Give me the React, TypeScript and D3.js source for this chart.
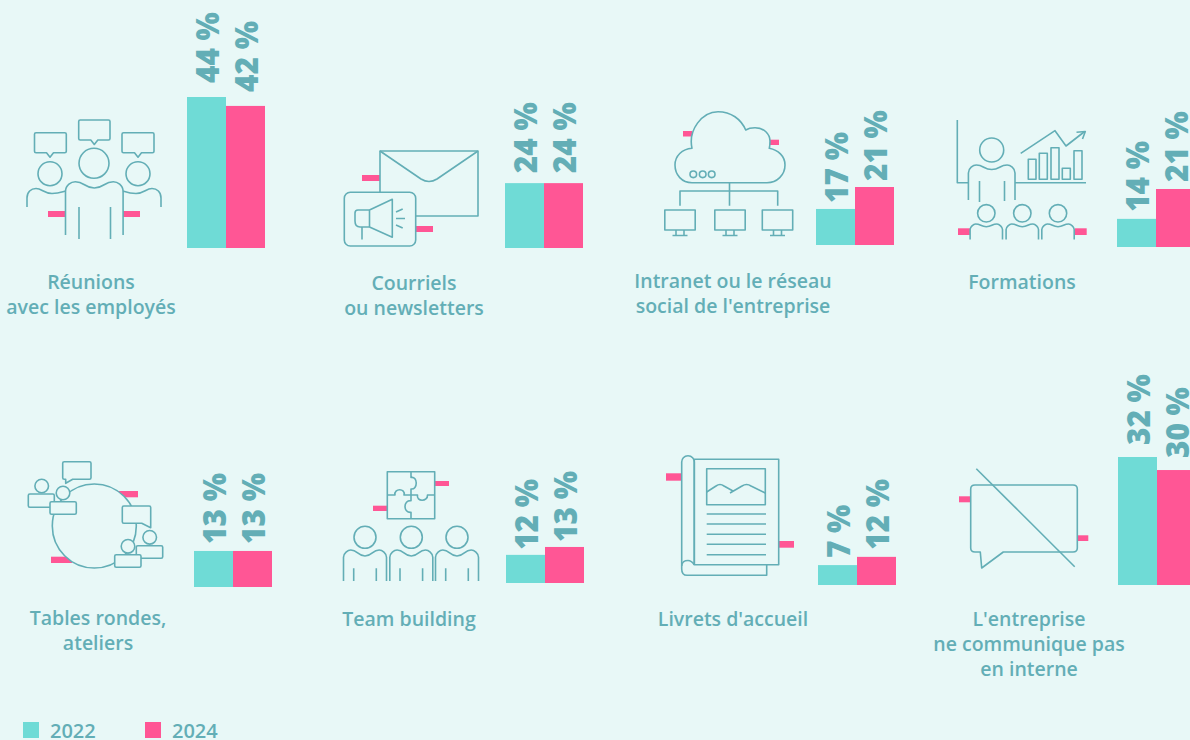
import React, { useEffect, useRef } from "react";
import * as d3 from "d3";

const years = ["2022", "2024"];
const categories = [
  ["Réunions", "avec les employés"],
  ["Courriels", "ou newsletters"],
  ["Intranet ou le réseau", "social de l'entreprise"],
  ["Formations"],
  ["Tables rondes,", "ateliers"],
  ["Team building"],
  ["Livrets d'accueil"],
  ["L'entreprise", "ne communique pas", "en interne"],
];
// printed labels
const values2022 = [44, 24, 17, 14, 13, 12, 7, 32];
const values2024 = [42, 24, 21, 21, 13, 13, 12, 30];
// the artwork's bars are not proportional to their labels, so the bar lengths
// are read off the picture separately, in the same units as the 44 % bar
const drawn2022 = [44, 18.9, 10.5, 8.2, 10.5, 8.2, 5.8, 37.3];
const drawn2024 = [41.4, 18.9, 16.9, 16.9, 10.5, 10.5, 8.2, 33.5];

// layout of each panel: left edge of bars, baseline, gap to label, text centre, first text baseline
const panelX = [187, 505, 816, 1117, 194, 506, 818, 1118];
const panelBase = [248, 248, 245, 247, 587, 583, 585, 585];
const labelGap = [14, 10, 6, 7, 7, 5, 7, 12];
const textX = [91, 414, 733, 1022, 98, 409, 733, 1029];
const textY = [289, 290, 288, 289, 625, 626, 626, 626];

const BG = "#e8f8f7";
const TEAL = "#6fdbd6";
const PINK = "#ff5695";
const INK = "#63aeb6";
const FONT = "'Open Sans', sans-serif";

const Dash = ({ x0, x1, y0, y1 }: { x0: number; x1: number; y0: number; y1: number }) => (
  <rect x={x0} y={y0} width={x1 - x0} height={y1 - y0} fill={PINK} stroke="none" />
);

// shoulders with a little dip at the neck
const torso = (cx: number, hw: number, top: number, dip: number, bot: number) => {
  const s = hw * 0.34;
  return `M${cx - hw} ${bot}V${top + s}C${cx - hw} ${top + 3} ${cx - hw + s * 0.6} ${top} ${cx - hw + s} ${top}` +
    `C${cx - s} ${top} ${cx - s} ${dip} ${cx} ${dip}C${cx + s} ${dip} ${cx + s} ${top} ${cx + hw - s} ${top}` +
    `C${cx + hw - s * 0.6} ${top} ${cx + hw} ${top + 3} ${cx + hw} ${top + s}V${bot}`;
};

const bubble = (x0: number, x1: number, y0: number, y1: number, tx: number, r = 1.5) =>
  `M${x0 + r} ${y0}H${x1 - r}Q${x1} ${y0} ${x1} ${y0 + r}V${y1 - r}Q${x1} ${y1} ${x1 - r} ${y1}H${tx + 3.5}L${tx} ${y1 + 4.5}L${tx - 3.5} ${y1}H${x0 + r}Q${x0} ${y1} ${x0} ${y1 - r}V${y0 + r}Q${x0} ${y0} ${x0 + r} ${y0}Z`;

const Meeting = () => (
  <g>
    <Dash x0={48} x1={66} y0={211} y1={217} />
    <Dash x0={123} x1={140} y0={211} y1={217} />
    <path d={bubble(34.5, 66.3, 132.7, 152.7, 50)} />
    <path d={bubble(78.7, 110, 120, 140, 94.3)} />
    <path d={bubble(122, 154, 132.7, 152.7, 138)} />
    <circle cx={50} cy={173.7} r={12} />
    <circle cx={94} cy={163.3} r={15} />
    <circle cx={138} cy={173.7} r={12} />
    <path d="M27 207V198C27 192 31 188.5 36 188.5C42 188.5 44 193.5 52 193.5C58 193.5 62 192 65.5 191" />
    <path d="M161 207V198C161 192 157 188.5 152 188.5C146 188.5 144 193.5 136 193.5C130 193.5 126 192 123 191" />
    <path d={torso(94.3, 28.8, 181.7, 188, 235)} />
    <path d="M79 207V239M110.5 207V239" />
  </g>
);

const Mail = () => (
  <g>
    <Dash x0={362} x1={380} y0={175} y1={181} />
    <Dash x0={416} x1={433} y0={226} y1={232} />
    <path d="M380 192V151H478V216H416" />
    <path d="M380 151L421 179Q429 184 437 179L478 151" />
    <rect x={344.3} y={192.3} width={71.4} height={53.7} rx={6} />
    <path d="M369.5 210L392.3 199.3V237.3L369.5 227ZM369.5 210H358Q355 210 355 213V221Q355 227 360 227H369.5M362 227V239.5" />
    <path d="M396 212L402.7 209M396 218.5H405M396 225L402.7 228" />
  </g>
);

const Cloud = () => (
  <g>
    <Dash x0={683} x1={692} y0={131} y1={136.5} />
    <Dash x0={770} x1={779} y0={139.7} y1={145} />
    <path d="M692 182.7C682 182.7 675 175 675 165C675 156 682 149 692 148.3C688 130 702 111.7 718 111.7C731 111.7 741 119 745.7 130C748 128.5 751 127.7 755 127.7C764 127.7 770 134 770 141C770 144 769.8 146 769.3 148.3C778 150 785 156 785 165C785 175 777 182.7 767 182.7Z" />
    <circle cx={693.3} cy={174.3} r={3.3} />
    <circle cx={702.7} cy={174.3} r={3.3} />
    <circle cx={711.7} cy={174.3} r={3.3} />
    <path d="M729.5 182.7V205.7M680 205.7V191H777.7V205.7" />
    {[680, 730, 777.5].map((c) => (
      <g key={c}>
        <rect x={c - 15.2} y={210} width={30.4} height={20} />
        <path d={`M${c - 4} 230V235.5M${c + 4} 230V235.5M${c - 7.5} 235.5H${c + 7.5}`} />
      </g>
    ))}
  </g>
);

const Training = () => (
  <g>
    <Dash x0={958} x1={970} y0={228.3} y1={235} />
    <Dash x0={1074.7} x1={1086.7} y0={228.3} y1={235} />
    <path d="M957.3 120V182.7H968M1015 182.7H1086" />
    <circle cx={991.7} cy={150} r={12} />
    <path d={torso(991.7, 23.3, 165, 169.5, 200)} />
    <path d="M979.5 181V202M1004.5 181V201" />
    <rect x={1028.3} y={159.3} width={7.7} height={20} />
    <rect x={1039.3} y={153.3} width={8} height={26} />
    <rect x={1051} y={147.7} width={8} height={31.6} />
    <rect x={1062.3} y={168.3} width={8} height={11} />
    <rect x={1074} y={150.7} width={8} height={28.6} />
    <path d="M1020.7 153.3L1055 130.7L1066 146L1084 132" />
    <path d="M1076.5 132.2L1085.3 131.5L1082.5 139" />
    {[986.3, 1022.3, 1058].map((c) => (
      <g key={c}>
        <circle cx={c} cy={213.3} r={8.7} />
        <path d={torso(c, 16.2, 224, 226.7, 239.5)} />
      </g>
    ))}
  </g>
);

const Card = ({ hx, hy, x0, x1, y0, y1 }: { hx: number; hy: number; x0: number; x1: number; y0: number; y1: number }) => (
  <g fill={BG}>
    <rect x={x0} y={y0} width={x1 - x0} height={y1 - y0} rx={1.5} />
    <circle cx={hx} cy={hy} r={6.8} />
  </g>
);

const Round = () => (
  <g>
    <Dash x0={118} x1={138} y0={491} y1={497.3} />
    <Dash x0={51} x1={72} y0={556.7} y1={563} />
    <circle cx={94.3} cy={526} r={42} fill={BG} />
    <path d="M62.7 463.2Q62.7 461.7 64.2 461.7H89.5Q91 461.7 91 463.2V477.8Q91 479.3 89.5 479.3H72.7L65.7 483.3V479.3H64.2Q62.7 479.3 62.7 477.8Z" fill={BG} />
    <Card hx={41.7} hy={486} x0={28.3} x1={54.3} y0={494} y1={507.3} />
    <Card hx={63} hy={493} x0={50} x1={76.3} y0={501.7} y1={514.3} />
    <path d="M122.3 507.5Q122.3 506 123.8 506H149.2Q150.7 506 150.7 507.5V527.7L141.7 523.3H123.8Q122.3 523.3 122.3 521.8Z" fill={BG} />
    <Card hx={149.7} hy={537.3} x0={136.3} x1={162.7} y0={545.7} y1={558.3} />
    <Card hx={128} hy={546.3} x0={114.7} x1={141} y0={554.7} y1={567.3} />
  </g>
);

const Team = () => (
  <g>
    <Dash x0={435} x1={449} y0={481} y1={486} />
    <Dash x0={373} x1={387.3} y0={505.7} y1={511} />
    <rect x={387.3} y={471.7} width={47.4} height={47} />
    <path d="M411 471.7V477.5C418 476 418 490 411 489V495" />
    <path d="M387.3 495H395C393.5 488 406 488 404 495H411" />
    <path d="M411 495H417.5C416 502 428 502 427.5 495H434.7" />
    <path d="M411 495V500.7C403 500 403 513 411 512.3V518.7" />
    {[365, 411.3, 457].map((c) => (
      <g key={c}>
        <circle cx={c} cy={537.3} r={11} />
        <path d={torso(c, 21.5, 550, 556, 581)} />
        <path d={`M${c - 11.3} 568.3V581M${c + 11.3} 568.3V581`} />
      </g>
    ))}
  </g>
);

const Booklet = () => (
  <g>
    <Dash x0={666} x1={681.5} y0={473.3} y1={480.7} />
    <Dash x0={779} x1={794} y0={541} y1={547.7} />
    <rect x={694.3} y={459.3} width={84.4} height={105.4} />
    <path d="M694.3 564.7V462C694.3 459 692 455.7 688 455.7C684 455.7 681.7 459 681.7 462V569Q681.7 575.3 687 575.3H766.7V564.7" />
    <path d="M681.7 566C681.7 562 685 560.5 688 560.5C691 560.5 692.5 562 694.3 564.7" />
    <rect x={706.7} y={468.7} width={58.6} height={36} />
    <path d="M706.7 492L716 486Q720 483 724 486L733 491M730 493L742 486Q746.7 483 751 486L765.3 493" />
    {[514, 524, 534.3, 544.3, 554.7].map((y) => (
      <path key={y} d={`M706.7 ${y}H766`} />
    ))}
  </g>
);

const Silent = () => (
  <g>
    <Dash x0={959} x1={971} y0={496.3} y1={502.3} />
    <Dash x0={1077} x1={1088.3} y0={535.3} y1={541} />
    <path d="M975 485H1073Q1077.3 485 1077.3 489V548Q1077.3 552 1073 552H1003.3L981.7 568L980.3 552H975Q970.7 552 970.7 548V489Q970.7 485 975 485Z" />
    <path d="M976.3 468.7L1074.7 566.7" />
  </g>
);

const icons = [Meeting, Mail, Cloud, Training, Round, Team, Booklet, Silent];

const App = () => {
  const ref = useRef<SVGGElement>(null);

  useEffect(() => {
    const g = d3.select(ref.current);
    g.selectAll("*").remove();

    const x = d3.scaleBand().domain(years).range([0, 78]);
    const h = d3.scaleLinear().domain([0, 44]).range([0, 151]);
    const color = d3.scaleOrdinal<string>().domain(years).range([TEAL, PINK]);

    categories.forEach((lines, i) => {
      const rows = [
        { year: "2022", value: values2022[i], drawn: drawn2022[i] },
        { year: "2024", value: values2024[i], drawn: drawn2024[i] },
      ];
      const panel = g.append("g").attr("transform", "translate(" + panelX[i] + "," + panelBase[i] + ")");

      panel
        .selectAll("rect")
        .data(rows)
        .enter()
        .append("rect")
        .attr("x", (d) => x(d.year)!)
        .attr("y", (d) => -h(d.drawn))
        .attr("width", x.bandwidth())
        .attr("height", (d) => h(d.drawn))
        .attr("fill", (d) => color(d.year));

      panel
        .selectAll("text")
        .data(rows)
        .enter()
        .append("text")
        .attr("transform", (d) => "translate(" + (x(d.year)! + x.bandwidth() / 2 + 12) + "," + (-h(d.drawn) - labelGap[i]) + ") rotate(-90) scale(0.93,1)")
        .attr("font-family", FONT)
        .attr("font-size", 32)
        .attr("font-weight", 800)
        .attr("fill", INK)
        .text((d) => d.value + " %");

      g.append("text")
        .attr("text-anchor", "middle")
        .attr("font-family", FONT)
        .attr("font-size", 19.5)
        .attr("font-weight", 600)
        .attr("fill", INK)
        .selectAll("tspan")
        .data(lines)
        .enter()
        .append("tspan")
        .attr("x", textX[i])
        .attr("y", (_, k) => textY[i] + k * 24.8)
        .text((d) => d);
    });

    // legend
    const legend = g
      .selectAll("g.legend")
      .data(years)
      .enter()
      .append("g")
      .attr("class", "legend")
      .attr("transform", (_, i) => "translate(" + (23 + i * 122) + ",722)");
    legend.append("rect").attr("width", 16).attr("height", 16).attr("fill", (d) => color(d));
    legend
      .append("text")
      .attr("x", 27)
      .attr("y", 16)
      .attr("font-family", FONT)
      .attr("font-size", 20)
      .attr("font-weight", 600)
      .attr("fill", INK)
      .text((d) => d);
  }, []);

  return (
    <svg width={1190} height={740} style={{ position: "absolute", left: 0, top: 0, display: "block" }}>
      <rect width={1190} height={740} fill={BG} />
      <g fill="none" stroke={INK} strokeWidth={1.6} strokeLinejoin="round">
        {icons.map((Icon, i) => (
          <Icon key={i} />
        ))}
      </g>
      <g ref={ref} />
    </svg>
  );
};

export default App;
